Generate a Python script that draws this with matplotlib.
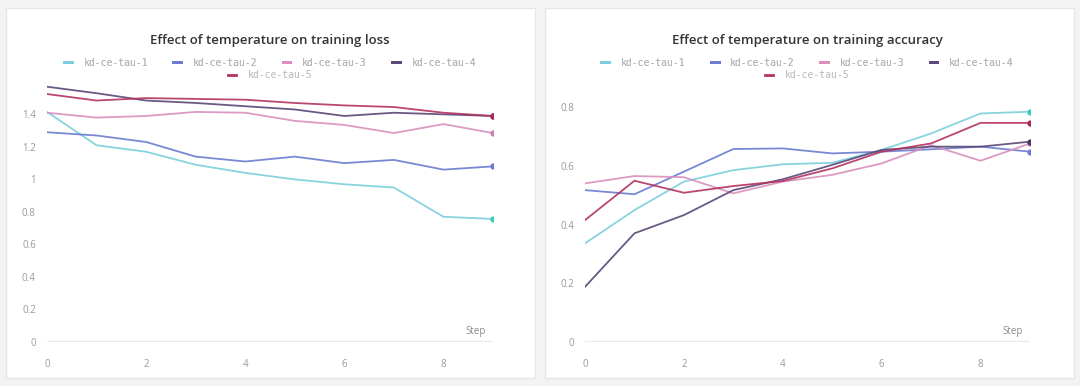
import matplotlib.pyplot as plt
from matplotlib.patches import Rectangle
from matplotlib.lines import Line2D

plt.rcParams['font.family'] = ['Open Sans', 'DejaVu Sans']

steps = [0, 1, 2, 3, 4, 5, 6, 7, 8, 9]
run_names = ["kd-ce-tau-1", "kd-ce-tau-2", "kd-ce-tau-3", "kd-ce-tau-4", "kd-ce-tau-5"]
run_colors = ["#7ccfdc", "#6b7bcf", "#d98fbd", "#5a4778", "#b3325f"]
end_colors = ["#35cdbb", "#6b7bcf", "#c97fb0", "#4a3868", "#a82a55"]

# training loss per run
loss_tau1 = [1.415, 1.21, 1.17, 1.09, 1.04, 1.00, 0.97, 0.95, 0.77, 0.757]
loss_tau2 = [1.29, 1.27, 1.23, 1.14, 1.11, 1.14, 1.10, 1.12, 1.06, 1.08]
loss_tau3 = [1.41, 1.38, 1.39, 1.415, 1.41, 1.36, 1.335, 1.285, 1.34, 1.285]
loss_tau4 = [1.57, 1.53, 1.485, 1.47, 1.45, 1.43, 1.39, 1.41, 1.40, 1.39]
loss_tau5 = [1.525, 1.485, 1.50, 1.495, 1.49, 1.47, 1.455, 1.445, 1.41, 1.39]

# training accuracy per run
acc_tau1 = [0.336, 0.449, 0.546, 0.585, 0.605, 0.61, 0.654, 0.71, 0.778, 0.784]
acc_tau2 = [0.517, 0.503, 0.58, 0.657, 0.659, 0.642, 0.648, 0.656, 0.665, 0.648]
acc_tau3 = [0.54, 0.565, 0.561, 0.506, 0.546, 0.569, 0.608, 0.67, 0.617, 0.676]
acc_tau4 = [0.188, 0.37, 0.432, 0.517, 0.554, 0.603, 0.654, 0.665, 0.665, 0.682]
acc_tau5 = [0.415, 0.549, 0.508, 0.531, 0.548, 0.591, 0.648, 0.676, 0.746, 0.746]

loss_runs = [loss_tau1, loss_tau2, loss_tau3, loss_tau4, loss_tau5]
acc_runs = [acc_tau1, acc_tau2, acc_tau3, acc_tau4, acc_tau5]

fig = plt.figure(figsize=(10.8, 3.86), dpi=100, facecolor="#f3f3f3")

# white cards behind each chart
for x0 in [0.006, 0.505]:
    fig.patches.append(Rectangle((x0, 0.02), 0.489, 0.96, transform=fig.transFigure,
                                 facecolor="white", edgecolor="#e6e6e6", lw=1, zorder=-10))

ax1 = fig.add_axes([0.0435, 0.114, 0.413, 0.674])
ax2 = fig.add_axes([0.5417, 0.114, 0.412, 0.624])

leg_font = dict(family='DejaVu Sans Mono', size=7)


def style(ax, runs, ymax, yticks, ylabels, title):
    for vals, c, ce in zip(runs, run_colors, end_colors):
        ax.plot(steps, vals, color=c, lw=1.3, alpha=0.9)
        ax.plot(steps[-1], vals[-1], 'o', color=ce, ms=3.5)
    ax.axhline(0, color="#ebebeb", lw=2.5, zorder=0)
    ax.set_xlim(0, 9)
    ax.set_ylim(0, ymax)
    ax.set_xticks([0, 2, 4, 6, 8])
    ax.set_yticks(yticks)
    ax.set_yticklabels(ylabels)
    ax.tick_params(length=0, labelsize=7, labelcolor="#9a9a9a", pad=8)
    ax.tick_params(axis='x', pad=12)
    for s in ax.spines.values():
        s.set_visible(False)
    ax.set_facecolor("none")
    ax.text(0.985, 0.02, "Step", transform=ax.transAxes, ha='right', va='bottom',
            fontsize=7, color="#8a8a8a")
    bb = ax.get_position()
    cx = (bb.x0 + bb.x1) / 2
    fig.text(cx, 0.895, title, ha='center', va='center', fontsize=9.5,
             fontweight='semibold', color="#333333")
    handles = [Line2D([0], [0], color=c, lw=2) for c in run_colors]
    leg1 = fig.legend(handles[:4], run_names[:4], loc='center', bbox_to_anchor=(cx, 0.838),
                      ncol=4, frameon=False, prop=leg_font, handlelength=0.8,
                      columnspacing=2.6, handletextpad=1.2, labelcolor="#b8b8b8")
    fig.legend(handles[4:], run_names[4:], loc='center', bbox_to_anchor=(cx, 0.805),
               ncol=1, frameon=False, prop=leg_font, handlelength=0.8,
               handletextpad=1.2, labelcolor="#b8b8b8")
    fig.add_artist(leg1)


style(ax1, loss_runs, 1.6, [0, 0.2, 0.4, 0.6, 0.8, 1.0, 1.2, 1.4],
      ["0", "0.2", "0.4", "0.6", "0.8", "1", "1.2", "1.4"],
      "Effect of temperature on training loss")
style(ax2, acc_runs, 0.82, [0, 0.2, 0.4, 0.6, 0.8],
      ["0", "0.2", "0.4", "0.6", "0.8"],
      "Effect of temperature on training accuracy")

fig.savefig("out.png", dpi=100, facecolor=fig.get_facecolor())
